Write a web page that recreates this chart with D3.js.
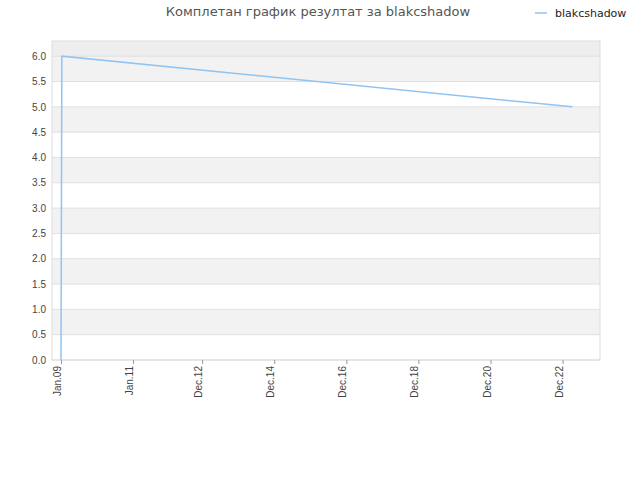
<!DOCTYPE html>
<html><head><meta charset="utf-8">
<script src="https://cdn.jsdelivr.net/npm/d3@7"></script>
<style>body{margin:0;background:#fff;font-family:"DejaVu Sans",sans-serif}</style>
</head><body>
<svg id="chart" width="640" height="480"></svg>
<script>
var title = "Комплетан график резултат за blakcshadow"
var seriesName = "blakcshadow"
var dates = ["2009-01-01", "2009-01-10", "2023-03-10"]
var values = [0, 6.0, 5.0]
var tickDates = ["2009-01-01","2011-01-01","2012-12-01","2014-12-01","2016-12-01","2018-12-01","2020-12-01","2022-12-01"]
var tickLabels = ["Jan.09","Jan.11","Dec.12","Dec.14","Dec.16","Dec.18","Dec.20","Dec.22"]

var parse = d3.timeParse("%Y-%m-%d")
var svg = d3.select("#chart")
var margin = {left:52, top:41, right:40, bottom:120}
var graph = {width:640-margin.left-margin.right, height:480-margin.top-margin.bottom}

var xScale = d3.scaleTime()
    .domain([parse("2008-10-02"), parse("2023-12-15")])
    .range([0, graph.width])
var yScale = d3.scaleLinear().domain([0, 6.3]).range([graph.height, 0])

var target = svg.append("g").attr("transform","translate("+margin.left+","+margin.top+")")

// alternating bands
var bands = d3.range(0, 6.5, 0.5)
target.selectAll("rect.band").data(bands).enter().append("rect")
    .attr("x", 0).attr("width", graph.width)
    .attr("y", d => yScale(Math.min(d+0.5, 6.3)))
    .attr("height", d => yScale(d) - yScale(Math.min(d+0.5, 6.3)))
    .attr("fill", (d,i) => i == 12 ? "#eeeeee" : (i%2 ? "#f2f2f2" : "#ffffff"))
target.selectAll("line.grid").data(bands).enter().append("line")
    .attr("x1", 0).attr("x2", graph.width)
    .attr("y1", d => yScale(d)).attr("y2", d => yScale(d))
    .attr("stroke", "#e0e0e0")
target.append("rect").attr("width", graph.width).attr("height", graph.height)
    .attr("fill","none").attr("stroke","#dddddd")

var yAxis = d3.axisLeft(yScale).tickValues(bands.filter(d => d <= 6)).tickFormat(d3.format(".1f")).tickSize(0).tickPadding(6)
var gy = target.append("g").call(yAxis)
gy.select(".domain").remove()
gy.selectAll("text").attr("font-size", 10).attr("fill", "#444")

var xAxis = d3.axisBottom(xScale).tickValues(tickDates.map(parse))
    .tickFormat((d,i) => tickLabels[i]).tickSize(4)
var gx = target.append("g").attr("transform","translate(0,"+graph.height+")").call(xAxis)
gx.select(".domain").remove()
gx.selectAll("line").attr("stroke","#999")
gx.selectAll("text").attr("font-size", 10).attr("fill","#444")
    .attr("transform","rotate(-90)").attr("text-anchor","end")
    .attr("x", -6).attr("y", -4).attr("dy", "0.35em")

var data = dates.map((d,i) => ({date: parse(d), value: values[i]}))
var line = d3.line().x(d => xScale(d.date)).y(d => yScale(d.value))
target.append("path").datum(data).attr("d", line)
    .attr("fill","none").attr("stroke","#90c4f4").attr("stroke-width", 1.5)

svg.append("text").text(title).attr("x", 318).attr("y", 16)
    .attr("text-anchor","middle").attr("font-size", 13).attr("fill","#555")
svg.append("line").attr("x1", 535).attr("x2", 547).attr("y1", 13).attr("y2", 13)
    .attr("stroke","#90c4f4").attr("stroke-width", 1.5)
svg.append("text").text(seriesName).attr("x", 555).attr("y", 17)
    .attr("font-size", 11).attr("fill","#222")
</script>
</body></html>
